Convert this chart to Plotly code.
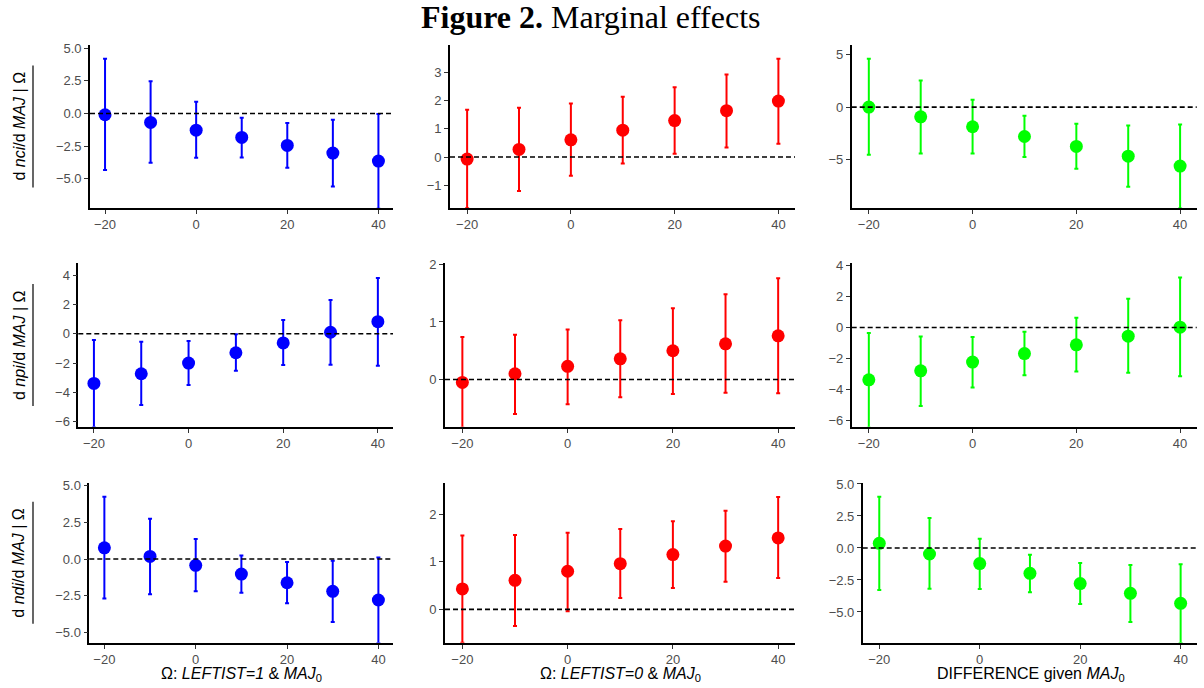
import plotly.graph_objects as go

W, H = 1204, 688

omega = [-20, -10, 0, 10, 20, 30, 40]

# Row 1: d nci / d MAJ
nci_left_est = [-0.10, -0.69, -1.28, -1.84, -2.45, -3.04, -3.65]
nci_left_lo = [-4.34, -3.78, -3.40, -3.37, -4.16, -5.60, -7.30]
nci_left_hi = [4.20, 2.47, 0.89, -0.33, -0.74, -0.49, -0.05]
nci_right_est = [-0.07, 0.27, 0.61, 0.95, 1.29, 1.64, 1.98]
nci_right_lo = [-1.81, -1.20, -0.66, -0.23, 0.12, 0.34, 0.47]
nci_right_hi = [1.67, 1.74, 1.89, 2.13, 2.47, 2.92, 3.47]
nci_diff_est = [0.00, -0.92, -1.86, -2.78, -3.72, -4.64, -5.58]
nci_diff_lo = [-4.51, -4.39, -4.39, -4.73, -5.84, -7.54, -9.60]
nci_diff_hi = [4.57, 2.52, 0.69, -0.82, -1.58, -1.74, -1.64]

# Row 2: d npi / d MAJ
npi_left_est = [-3.39, -2.73, -2.00, -1.30, -0.63, 0.10, 0.82]
npi_left_lo = [-6.40, -4.86, -3.50, -2.52, -2.13, -2.11, -2.18]
npi_left_hi = [-0.43, -0.55, -0.50, -0.04, 0.93, 2.30, 3.80]
npi_right_est = [-0.05, 0.10, 0.23, 0.36, 0.50, 0.62, 0.76]
npi_right_lo = [-0.84, -0.60, -0.43, -0.31, -0.25, -0.23, -0.24]
npi_right_hi = [0.74, 0.78, 0.87, 1.03, 1.24, 1.48, 1.76]
npi_diff_est = [-3.37, -2.79, -2.23, -1.68, -1.12, -0.56, 0.02]
npi_diff_lo = [-6.45, -5.05, -3.87, -3.07, -2.84, -2.92, -3.14]
npi_diff_hi = [-0.36, -0.58, -0.62, -0.28, 0.63, 1.85, 3.21]

# Row 3: d ndi / d MAJ
ndi_left_est = [0.77, 0.18, -0.43, -1.03, -1.62, -2.21, -2.80]
ndi_left_lo = [-2.69, -2.41, -2.21, -2.30, -3.03, -4.31, -5.75]
ndi_left_hi = [4.26, 2.76, 1.37, 0.25, -0.20, -0.11, 0.11]
ndi_right_est = [0.43, 0.61, 0.80, 0.96, 1.15, 1.33, 1.50]
ndi_right_lo = [-0.70, -0.35, -0.04, 0.24, 0.45, 0.58, 0.66]
ndi_right_hi = [1.55, 1.56, 1.61, 1.69, 1.85, 2.07, 2.36]
ndi_diff_est = [0.36, -0.47, -1.22, -1.98, -2.78, -3.54, -4.32]
ndi_diff_lo = [-3.28, -3.18, -3.20, -3.46, -4.38, -5.78, -7.45]
ndi_diff_hi = [4.01, 2.34, 0.73, -0.52, -1.17, -1.33, -1.27]

row_titles = [
    "d <i>nci</i>/d <i>MAJ</i> | Ω",
    "d <i>npi</i>/d <i>MAJ</i> | Ω",
    "d <i>ndi</i>/d <i>MAJ</i> | Ω",
]
col_titles = [
    "Ω: <i>LEFTIST=1</i> & <i>MAJ</i><sub>0</sub>",
    "Ω: <i>LEFTIST=0</i> & <i>MAJ</i><sub>0</sub>",
    "DIFFERENCE given <i>MAJ</i><sub>0</sub>",
]
colors = ["#0000FF", "#FF0000", "#00FF00"]

panels = [
    [(nci_left_est, nci_left_lo, nci_left_hi), (nci_right_est, nci_right_lo, nci_right_hi), (nci_diff_est, nci_diff_lo, nci_diff_hi)],
    [(npi_left_est, npi_left_lo, npi_left_hi), (npi_right_est, npi_right_lo, npi_right_hi), (npi_diff_est, npi_diff_lo, npi_diff_hi)],
    [(ndi_left_est, ndi_left_lo, ndi_left_hi), (ndi_right_est, ndi_right_lo, ndi_right_hi), (ndi_diff_est, ndi_diff_lo, ndi_diff_hi)],
]

# axis layout (pixels)
row_px = [(45, 208), (263.3, 426.7), (482.7, 642.7)]
col_left_px = [[90, 450, 851.7], [78.3, 445, 851.7], [89.3, 445, 862.7]]
col_right_px = [393, 795, 1196.7]
y_ranges = [
    [[-7.25, 5.25], [-1.8, 3.96], [-9.55, 5.88]],
    [[-6.34, 4.8], [-0.82, 2.02], [-6.39, 4.13]],
    [[-5.72, 5.22], [-0.70, 2.66], [-7.40, 5.10]],
]
y_ticks = [
    [[-5, -2.5, 0, 2.5, 5], [-1, 0, 1, 2, 3], [-5, 0, 5]],
    [[-6, -4, -2, 0, 2, 4], [0, 1, 2], [-6, -4, -2, 0, 2, 4]],
    [[-5, -2.5, 0, 2.5, 5], [0, 1, 2], [-5, -2.5, 0, 2.5, 5]],
]
y_fmt = [
    [".1f", "d", "d"],
    ["d", "d", "d"],
    [".1f", "d", ".1f"],
]

fig = go.Figure()
tick_font = dict(family="Liberation Sans, Arial, sans-serif", size=13, color="#4D4D4D")

for r in range(3):
    for c in range(3):
        k = r * 3 + c + 1
        xa = "x" if k == 1 else f"x{k}"
        ya = "y" if k == 1 else f"y{k}"
        est, lo, hi = panels[r][c]
        fig.add_trace(go.Scatter(
            x=omega, y=est, mode="markers", xaxis=xa, yaxis=ya,
            marker=dict(color=colors[c], size=13, line=dict(width=0)),
            error_y=dict(type="data", symmetric=False,
                         array=[h - e for h, e in zip(hi, est)],
                         arrayminus=[e - l for e, l in zip(est, lo)],
                         color=colors[c], thickness=2, width=2),
            showlegend=False, hoverinfo="skip",
        ))
        top, bot = row_px[r]
        left, right = col_left_px[r][c], col_right_px[c]
        xkey = "xaxis" if k == 1 else f"xaxis{k}"
        ykey = "yaxis" if k == 1 else f"yaxis{k}"
        fig.update_layout(**{
            xkey: dict(domain=[left / W, right / W], anchor=ya, range=[-23.3, 43.2],
                       tickvals=[-20, 0, 20, 40], showgrid=False, zeroline=False,
                       showline=True, linecolor="black", linewidth=1.6, automargin=False,
                       ticks="outside", ticklen=4, tickcolor="#333333", tickwidth=1,
                       tickfont=tick_font),
            ykey: dict(domain=[1 - bot / H, 1 - top / H], anchor=xa, range=y_ranges[r][c],
                       tickvals=y_ticks[r][c], tickformat=y_fmt[r][c], showgrid=False,
                       zeroline=False, showline=True, linecolor="black", linewidth=1.6,
                       automargin=False,
                       ticks="outside", ticklen=4, tickcolor="#333333", tickwidth=1,
                       tickfont=tick_font),
        })
        fig.add_shape(type="line", xref=f"{xa} domain", yref=ya, x0=0, x1=1, y0=0, y1=0,
                      line=dict(color="black", width=1.6, dash="5px,3px"), layer="above")

# y-axis row titles (rotated) with bar
for r in range(3):
    top, bot = row_px[r]
    yc = 1 - (top + bot) / 2 / H
    fig.add_annotation(text=row_titles[r], xref="paper", yref="paper", x=19 / W, y=yc,
                       textangle=-90, showarrow=False, xanchor="center", yanchor="middle",
                       font=dict(family="Liberation Sans, Arial, sans-serif", size=16, color="black"))
    half = 61
    fig.add_shape(type="line", xref="paper", yref="paper", x0=33 / W, x1=33 / W,
                  y0=yc - half / H, y1=yc + half / H, line=dict(color="black", width=1.2))

# bottom column titles
col_centers = [241.5, 620, 1031]
for c in range(3):
    fig.add_annotation(text=col_titles[c], xref="paper", yref="paper", x=col_centers[c] / W,
                       y=1 - 674 / H, showarrow=False, xanchor="center", yanchor="middle",
                       font=dict(family="Liberation Sans, Arial, sans-serif", size=16, color="black"))

fig.add_annotation(text="<b>Figure 2.</b> Marginal effects", xref="paper", yref="paper",
                   x=590 / W, y=1 - 17 / H, showarrow=False, xanchor="center", yanchor="middle",
                   font=dict(family="Liberation Serif, Times New Roman, serif", size=32, color="black"))

fig.update_layout(width=W, height=H, margin=dict(l=0, r=0, t=0, b=0),
                  plot_bgcolor="white", paper_bgcolor="white", hovermode=False)

fig.write_html("out.html", config={"displayModeBar": False},
               post_script="document.body.style.margin='0';")
